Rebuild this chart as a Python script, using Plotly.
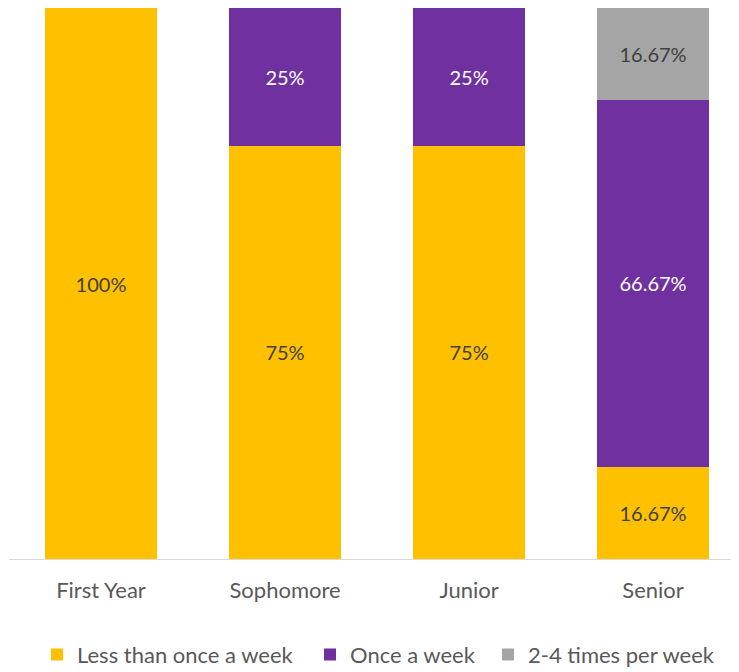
import plotly.graph_objects as go

categories = ["First Year", "Sophomore", "Junior", "Senior"]
less_than_once = [100, 75, 75, 16.67]
once_a_week = [0, 25, 25, 66.67]
two_to_four = [0, 0, 0, 16.67]
series_names = ["Less than once a week", "Once a week", "2-4 times per week"]
colors = ["#FFC000", "#7030A0", "#A5A5A5"]
label_colors = ["#404040", "#FFFFFF", "#404040"]

FONT = "Lato, Open Sans, sans-serif"
FIG_W, FIG_H = 731, 664
legend_ids = ["legend", "legend2", "legend3"]
legend_left_px = [29, 302, 480]

def labels(vals):
    out = []
    for v in vals:
        if v == 0:
            out.append("")
        elif float(v).is_integer():
            out.append(f"{int(v)}%")
        else:
            out.append(f"{v:.2f}%")
    return out

fig = go.Figure()
for name, vals, c, lc, lg in zip(series_names, [less_than_once, once_a_week, two_to_four],
                                 colors, label_colors, legend_ids):
    fig.add_trace(go.Bar(
        x=categories, y=vals, name=name, legend=lg,
        marker=dict(color=c, line=dict(width=0)),
        text=labels(vals), textposition="inside", insidetextanchor="middle",
        textfont=dict(color=lc, size=20, family=FONT),
        hoverinfo="skip",
    ))

legend_common = dict(orientation="h", xanchor="left", xref="container",
                     y=0.026, yanchor="middle", yref="container",
                     font=dict(size=22, color="#595959", family=FONT),
                     itemwidth=30, bgcolor="rgba(0,0,0,0)")
layout_legends = {}
for lg, px in zip(legend_ids, legend_left_px):
    layout_legends[lg] = dict(legend_common, x=px / FIG_W)

fig.update_layout(
    barmode="stack",
    bargap=0.39,
    width=FIG_W, height=FIG_H,
    margin=dict(l=1, r=0, t=0, b=113),
    paper_bgcolor="white", plot_bgcolor="white",
    showlegend=True,
    uniformtext=dict(mode=False),
    **layout_legends,
)
fig.update_xaxes(range=[-0.5, 3.467], showline=True, linecolor="#D9D9D9", linewidth=1,
                 ticks="", tickfont=dict(size=22, color="#595959", family=FONT),
                 ticklabelstandoff=12)
fig.update_yaxes(range=[0, 100], visible=False, showgrid=False)

fig.write_html("out.html")
